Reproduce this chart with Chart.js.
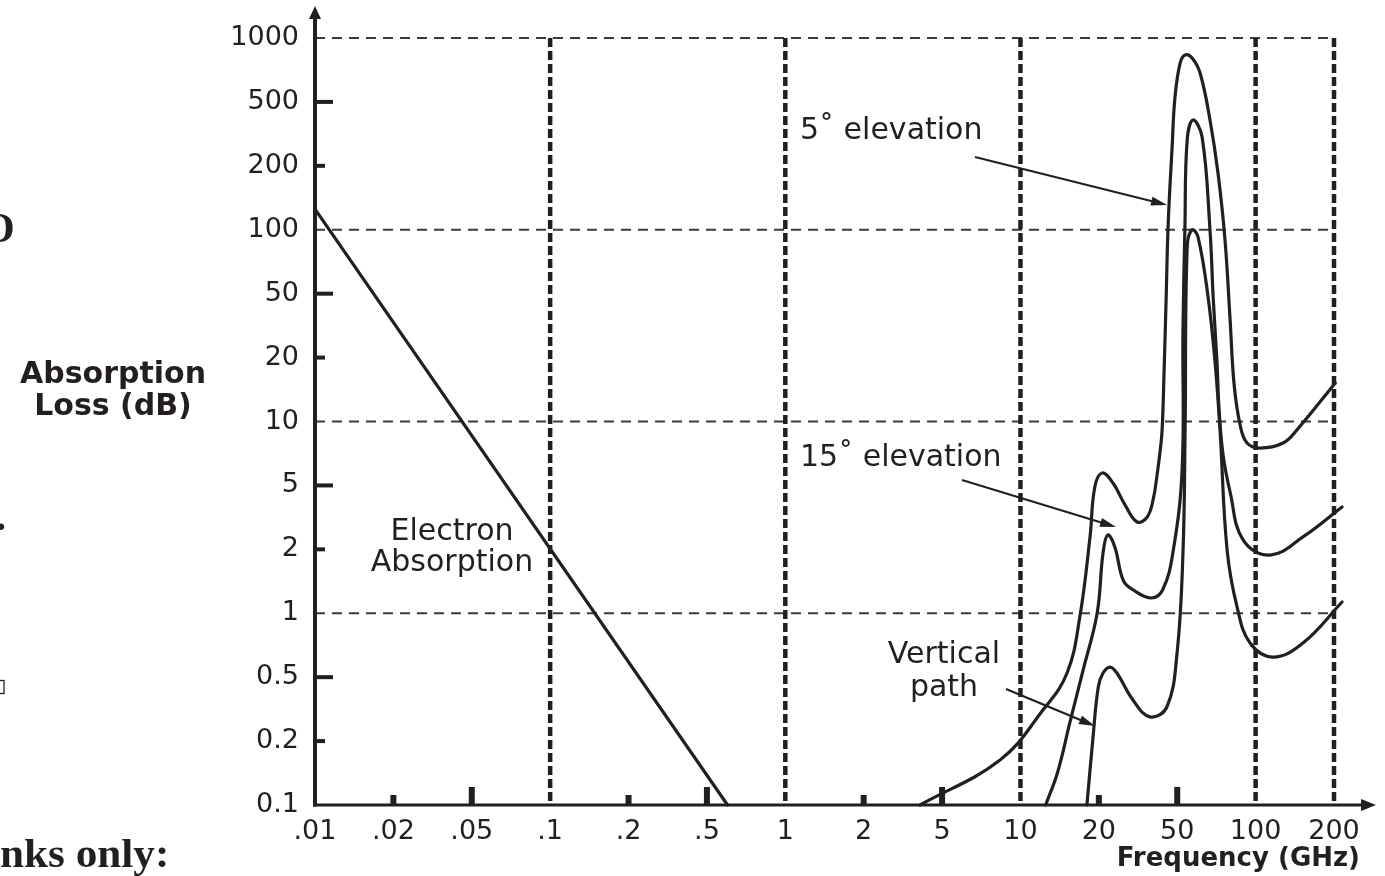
<!DOCTYPE html>
<html><head><meta charset="utf-8">
<script src="https://cdn.jsdelivr.net/npm/chart.js@4.4.1/dist/chart.umd.min.js"></script>
<style>html,body{margin:0;padding:0;background:#fff;overflow:hidden}canvas{display:block}</style>
</head><body>
<canvas id="c" width="1385" height="876"></canvas>
<script>
// ---- tick values / labels (1-2-5 steps, evenly spaced on the original chart) ----
const xTickValues = [0.01,0.02,0.05,0.1,0.2,0.5,1,2,5,10,20,50,100,200];
const xTickLabels = ['.01','.02','.05','.1','.2','.5','1','2','5','10','20','50','100','200'];
const yTickValues = [0.1,0.2,0.5,1,2,5,10,20,50,100,200,500,1000];
const yTickLabels = ['0.1','0.2','0.5','1','2','5','10','20','50','100','200','500','1000'];

// ---- series (frequency in GHz, absorption loss in dB) ----
const electronFreq = [0.01, 0.6];
const electronLoss = [125, 0.1];

const elev5Freq = [3.87,8.35,12.2,15.1,16.9,18.5,19.3,20.8,23.6,27.2,31.3,35.2,37.7,39.5,40.9,41.9,42.9,43.9,45.0,47.1,48.7,51.3,53.6,57.0,61.2,66.8,71.7,76.3,79.8,82.7,87.2,92.7,104,127.5,144,203];
const elev5Loss = [0.1,0.163,0.312,0.523,0.96,2.39,4.89,5.72,5.13,3.77,2.96,3.18,4.06,5.6,7.2,9.12,17.5,45.7,107.5,262,527,761,831,805,684,386,185,89.4,34.3,14.9,9.63,7.92,7.5,7.92,9.12,15.2];

const elev15Freq = [12.5,13.9,15.5,17.4,19.7,21.0,22.2,24.1,26.6,29.8,37.0,42.2,47.5,52.2,52.6,53.5,54.6,57.5,62.3,66.8,68.7,71.1,72.4,75.0,79.8,89.5,113.6,152,219.8];
const elev15Loss = [0.1,0.143,0.263,0.54,1.0,1.92,2.46,2.07,1.43,1.29,1.18,1.29,1.92,5.91,29.7,100,290,386,302,100,47.5,18.9,11.3,6.95,4.55,2.29,1.88,2.39,3.67];

const verticalFreq = [18.0,19.0,19.9,21.0,22.8,24.7,29.8,36.3,44.3,49.9,52.6,53.6,54.6,57.0,60.1,65.7,69.9,73.0,77.7,84.9,95.2,116.7,152,219.8];
const verticalLoss = [0.1,0.212,0.434,0.523,0.558,0.523,0.360,0.283,0.326,0.65,1.92,9.12,83.0,100,92.4,47.5,18.9,9.12,1.99,1.07,0.724,0.622,0.724,1.13];

const xGridValues = [0.1,1,10,100,200];
const yGridValues = [1,10,100,1000];
const xMinorValues = [0.02,0.05,0.2,0.5,2,5,20,50];
const yMinorValues = [0.2,0.5,2,5,20,50,200,500];

const INK = '#231f20';

// ---- 1-2-5 axis transform: value -> evenly spaced tick index ----
function mant(v){ const p = Math.pow(10, Math.floor(Math.log10(v) + 1e-9)); return Math.round(v / p); }
function nextStep(v){ return mant(v) === 2 ? v * 2.5 : v * 2; }
function prevStep(v){ return mant(v) === 5 ? v / 2.5 : v / 2; }
function toIdx(v, vals){
  const n = vals.length;
  if (v <= vals[0]) { const lo = prevStep(vals[0]); return -Math.log(vals[0] / v) / Math.log(vals[0] / lo); }
  for (let k = 0; k < n - 1; k++) {
    if (v <= vals[k + 1]) return k + Math.log(v / vals[k]) / Math.log(vals[k + 1] / vals[k]);
  }
  const hi = nextStep(vals[n - 1]);
  return n - 1 + Math.log(v / vals[n - 1]) / Math.log(hi / vals[n - 1]);
}
function series(label, fr, loss, smooth){
  return {
    label,
    data: fr.map((f, i) => ({ x: toIdx(f, xTickValues), y: toIdx(loss[i], yTickValues) })),
    showLine: true, borderColor: INK, borderWidth: 3.2, pointRadius: 0,
    tension: smooth ? 0.4 : 0, cubicInterpolationMode: 'default',
    borderJoinStyle: 'round', borderCapStyle: 'round',
    clip: false, fill: false
  };
}

function txt(ctx, s, x, y, font, align, sx){
  ctx.save(); ctx.font = font; ctx.fillStyle = INK; ctx.textAlign = align || 'left'; ctx.textBaseline = 'alphabetic';
  ctx.translate(x, y); ctx.scale(sx || 1, 1); ctx.fillText(s, 0, 0); ctx.restore();
}
function arrow(ctx, x1, y1, x2, y2){
  const a = Math.atan2(y2 - y1, x2 - x1), L = 16, W = 4.5, c = Math.cos(a), s = Math.sin(a);
  ctx.beginPath(); ctx.moveTo(x1, y1); ctx.lineTo(x2 - L * 0.7 * c, y2 - L * 0.7 * s); ctx.stroke();
  ctx.beginPath(); ctx.moveTo(x2, y2);
  ctx.lineTo(x2 - L * c + W * s, y2 - L * s - W * c);
  ctx.lineTo(x2 - L * c - W * s, y2 - L * s + W * c);
  ctx.closePath(); ctx.fill();
}

const decor = {
  id: 'decor',
  beforeDatasetsDraw(chart){
    const { ctx, scales: { x, y } } = chart;
    const X = v => x.getPixelForValue(toIdx(v, xTickValues));
    const Y = v => y.getPixelForValue(toIdx(v, yTickValues));
    ctx.save();
    ctx.strokeStyle = '#3b3b3b'; ctx.lineWidth = 2; ctx.setLineDash([10, 7]);
    yGridValues.forEach(v => { ctx.beginPath(); ctx.moveTo(X(0.01), Y(v)); ctx.lineTo(X(200), Y(v)); ctx.stroke(); });
    ctx.strokeStyle = INK; ctx.lineWidth = 4.5; ctx.setLineDash([9, 4]);
    xGridValues.forEach(v => { ctx.beginPath(); ctx.moveTo(X(v), Y(1000)); ctx.lineTo(X(v), Y(0.1)); ctx.stroke(); });
    ctx.restore();
  },
  afterDraw(chart){
    const { ctx, scales: { x, y } } = chart;
    const X = v => x.getPixelForValue(toIdx(v, xTickValues));
    const Y = v => y.getPixelForValue(toIdx(v, yTickValues));
    const x0 = X(0.01), y0 = Y(0.1);
    ctx.save();
    ctx.fillStyle = INK; ctx.strokeStyle = INK; ctx.setLineDash([]);
    // axes with arrows
    ctx.lineWidth = 4; ctx.beginPath(); ctx.moveTo(x0, y0 + 1.5); ctx.lineTo(x0, 16); ctx.stroke();
    ctx.beginPath(); ctx.moveTo(x0, 6); ctx.lineTo(x0 - 6, 19); ctx.lineTo(x0 + 6, 19); ctx.closePath(); ctx.fill();
    ctx.lineWidth = 3; ctx.beginPath(); ctx.moveTo(x0 - 2, y0); ctx.lineTo(1362, y0); ctx.stroke();
    ctx.beginPath(); ctx.moveTo(1376, y0); ctx.lineTo(1361, y0 - 6); ctx.lineTo(1361, y0 + 6); ctx.closePath(); ctx.fill();
    // minor tick marks
    yMinorValues.forEach(v => { const len = mant(v) === 5 ? 18 : 10; ctx.fillRect(x0, Y(v) - 2, len, 4); });
    xMinorValues.forEach(v => { const len = mant(v) === 5 ? 18 : 10; ctx.fillRect(X(v) - 3, y0 - len, 6, len); });
    // annotation arrows
    ctx.lineWidth = 2.2;
    arrow(ctx, 975, 157, 1167, 205);
    arrow(ctx, 962, 480, 1116, 527);
    arrow(ctx, 1006, 689, 1095, 726);
    // clipped fragments of the surrounding page
    ctx.lineWidth = 1.3; ctx.strokeRect(-8, 680.5, 12, 13);
    ctx.restore();
    // annotation texts
    const f = '30px "DejaVu Sans"';
    txt(ctx, '5\u02DA elevation', 800, 139, f);
    txt(ctx, '15\u02DA elevation', 800, 466, f);
    txt(ctx, 'Vertical', 944, 663, f, 'center');
    txt(ctx, 'path', 944, 696, f, 'center');
    txt(ctx, 'Electron', 452, 540, f, 'center');
    txt(ctx, 'Absorption', 452, 571, f, 'center');
    // axis titles
    txt(ctx, 'Absorption', 113, 383, 'bold 30px "DejaVu Sans"', 'center');
    txt(ctx, 'Loss (dB)', 113, 415, 'bold 30px "DejaVu Sans"', 'center');
    txt(ctx, 'Frequency (GHz)', 1360, 866, 'bold 26px "DejaVu Sans"', 'right');
    // fragments of surrounding page text
    txt(ctx, 'O', -18, 242, 'bold 42px "Liberation Serif"', 'left');
    txt(ctx, '.', -4, 530, 'bold 40px "Liberation Serif"', 'left');
    txt(ctx, 'nks only:', 0, 867, 'bold 40px "Liberation Serif"', 'left', 1.08);
  }
};

new Chart(document.getElementById('c'), {
  type: 'scatter',
  data: { datasets: [
    series('Electron Absorption', electronFreq, electronLoss, false),
    series('5\u02DA elevation', elev5Freq, elev5Loss, true),
    series('15\u02DA elevation', elev15Freq, elev15Loss, true),
    series('Vertical path', verticalFreq, verticalLoss, true)
  ]},
  options: {
    responsive: false, animation: false, devicePixelRatio: 1, events: [],
    layout: { padding: { top: 38, right: 51, left: 0, bottom: 0 } },
    plugins: { legend: { display: false }, tooltip: { enabled: false } },
    scales: {
      x: {
        type: 'linear', min: 0, max: xTickValues.length - 1,
        grid: { display: false, drawTicks: false }, border: { display: false },
        afterBuildTicks: s => { s.ticks = xTickLabels.map((_, i) => ({ value: i })); },
        afterFit: s => { s.height = 71; },
        ticks: { autoSkip: false, maxRotation: 0, minRotation: 0, padding: 11, color: INK,
          font: { family: 'DejaVu Sans', size: 27 }, callback: v => xTickLabels[Math.round(v)] }
      },
      y: {
        type: 'linear', min: 0, max: yTickValues.length - 1,
        grid: { display: false, drawTicks: false }, border: { display: false },
        afterBuildTicks: s => { s.ticks = yTickLabels.map((_, i) => ({ value: i })); },
        afterFit: s => { s.width = 315; },
        ticks: { autoSkip: false, padding: 16, color: INK,
          font: { family: 'DejaVu Sans', size: 27 }, callback: v => yTickLabels[Math.round(v)] }
      }
    }
  },
  plugins: [decor]
});
</script>
</body></html>
